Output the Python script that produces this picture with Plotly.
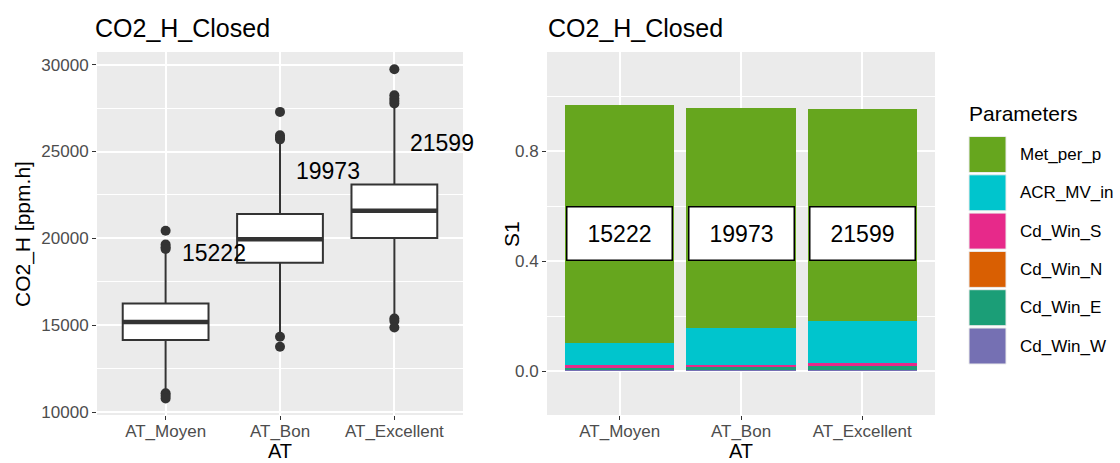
import plotly.graph_objects as go

# ---------------- data ----------------
categories = ["AT_Moyen", "AT_Bon", "AT_Excellent"]

# box statistics (left panel)
q1 = [14155, 18600, 20020]
medians = [15190, 19960, 21590]
q3 = [16260, 21400, 23100]
lower_whisker = [11200, 14450, 15550]
upper_whisker = [19300, 25500, 27600]
outlier_cat = ["AT_Moyen"] * 7 + ["AT_Bon"] * 6 + ["AT_Excellent"] * 8
outlier_val = [20440, 19650, 19500, 19400, 11100, 10950, 10800,
               27280, 25940, 25800, 25700, 14350, 13770,
               29730, 28240, 28050, 27900, 27760, 15400, 15250, 14880]
label_values = ["15222", "19973", "21599"]
label_y = [19140, 23870, 25500]

# sensitivity indices (right panel), stacked bottom-up
param_names = ["Cd_Win_N", "Cd_Win_W", "Cd_Win_E", "Cd_Win_S", "ACR_MV_in", "Met_per_p"]
param_values = {
    "Cd_Win_N": [0.002, 0.002, 0.002],
    "Cd_Win_W": [0.0005, 0.0005, 0.0005],
    "Cd_Win_E": [0.009, 0.011, 0.015],
    "Cd_Win_S": [0.011, 0.008, 0.013],
    "ACR_MV_in": [0.079, 0.136, 0.150],
    "Met_per_p": [0.866, 0.798, 0.771],
}
legend_order = ["Met_per_p", "ACR_MV_in", "Cd_Win_S", "Cd_Win_N", "Cd_Win_E", "Cd_Win_W"]
colors = {
    "Met_per_p": "#66A61E",
    "ACR_MV_in": "#00C5CD",
    "Cd_Win_S": "#E7298A",
    "Cd_Win_N": "#D95F02",
    "Cd_Win_E": "#1B9E77",
    "Cd_Win_W": "#7570B3",
}
bar_label_y = [0.5, 0.5, 0.5]

# ---------------- figure ----------------
W, H = 1120, 463
FONT = "Liberation Sans, Arial, sans-serif"
TICKC = "#4D4D4D"
fig = go.Figure()

def px_x(p):
    return p / W

def px_y(p):
    return 1 - p / H

fig.add_trace(go.Box(
    x=categories, q1=q1, median=medians, q3=q3,
    lowerfence=lower_whisker, upperfence=upper_whisker,
    boxpoints=False, fillcolor="white", width=0.75, whiskerwidth=0,
    line=dict(color="#333333", width=2), xaxis="x", yaxis="y",
    showlegend=False, hoverinfo="skip"))

# thick median line
fig.add_trace(go.Scatter(
    x=categories, y=medians, mode="markers", xaxis="x", yaxis="y",
    marker=dict(symbol="line-ew", size=61, line=dict(color="#333333", width=4.5)),
    showlegend=False, hoverinfo="skip"))

fig.add_trace(go.Scatter(
    x=outlier_cat, y=outlier_val, mode="markers", xaxis="x", yaxis="y",
    marker=dict(color="#333333", size=10), showlegend=False, hoverinfo="skip"))

for name in param_names:
    fig.add_trace(go.Bar(
        x=categories, y=param_values[name], name=name, xaxis="x2", yaxis="y2",
        marker=dict(color=colors[name], line=dict(width=0)), width=0.9,
        showlegend=False, hoverinfo="skip"))

C = dict(xanchor="center", yanchor="middle", showarrow=False)
annotations = []
for i, (t, y) in enumerate(zip(label_values, label_y)):
    annotations.append(dict(x=i + 0.42, y=y, xref="x", yref="y", text=t,
                            font=dict(size=23, color="black", family=FONT), **C))
for i, (t, y) in enumerate(zip(label_values, bar_label_y)):
    annotations.append(dict(x=i, y=y, xref="x2", yref="y2", text=t,
                            font=dict(size=23, color="black", family=FONT),
                            bgcolor="white", bordercolor="black", borderwidth=1.5,
                            borderpad=1, width=102, height=50, **C))

# titles
for xp in (93, 546):
    annotations.append(dict(x=px_x(xp), y=px_y(28), xref="paper", yref="paper",
                            text="CO2_H_Closed", showarrow=False, xanchor="left",
                            yanchor="middle", font=dict(size=25, color="black", family=FONT)))
# axis titles
for xp in (280, 741):
    annotations.append(dict(x=px_x(xp), y=0, xref="paper", yref="paper", text="AT",
                            xanchor="center", yanchor="bottom", showarrow=False,
                            borderpad=0, font=dict(size=20, color="black", family=FONT)))
annotations.append(dict(x=px_x(23), y=px_y(234), xref="paper", yref="paper",
                        text="CO2_H [ppm.h]", textangle=-90,
                        font=dict(size=21, color="black", family=FONT), **C))
annotations.append(dict(x=px_x(511), y=px_y(234), xref="paper", yref="paper",
                        text="S1", textangle=-90,
                        font=dict(size=21, color="black", family=FONT), **C))

# manual legend
shapes = []
annotations.append(dict(x=px_x(967), y=px_y(113), xref="paper", yref="paper",
                        text="Parameters", showarrow=False, xanchor="left", yanchor="middle",
                        font=dict(size=21, color="black", family=FONT)))
for i, name in enumerate(legend_order):
    top = 136.5 + 38.3 * i
    shapes.append(dict(type="rect", xref="paper", yref="paper",
                       x0=px_x(969), x1=px_x(1006), y0=px_y(top + 36), y1=px_y(top),
                       fillcolor=colors[name], line=dict(color="#EBEBEB", width=1)))
    annotations.append(dict(x=px_x(1018), y=px_y(top + 18), xref="paper", yref="paper",
                            text=name, showarrow=False, xanchor="left", yanchor="middle",
                            font=dict(size=17, color="black", family=FONT)))

axis_common = dict(showline=False, ticks="outside", ticklen=4, tickwidth=1,
                   tickcolor="#333333", tickfont=dict(size=17, color=TICKC, family=FONT),
                   gridcolor="white", gridwidth=1.6, zeroline=False, automargin=False)

ydom = [px_y(415), px_y(52)]
fig.update_layout(
    width=W, height=H, margin=dict(l=0, r=0, t=0, b=0),
    paper_bgcolor="white", plot_bgcolor="#EBEBEB",
    barmode="stack", showlegend=False,
    font=dict(family=FONT),
    xaxis=dict(domain=[px_x(97), px_x(463)], type="category", range=[-0.6, 2.6],
               anchor="y", showgrid=True, **axis_common),
    yaxis=dict(domain=ydom, range=[9845, 30724], anchor="x",
               tickvals=[10000, 15000, 20000, 25000, 30000], tickformat="d",
               showgrid=True,
               minor=dict(tickvals=[12500, 17500, 22500, 27500], showgrid=True,
                          gridcolor="white", gridwidth=0.8, ticks=""),
               **axis_common),
    xaxis2=dict(domain=[px_x(547), px_x(935)], type="category", range=[-0.6, 2.6],
                anchor="y2", showgrid=True, **axis_common),
    yaxis2=dict(domain=ydom, range=[-0.16, 1.16], anchor="x2", tickvals=[0, 0.4, 0.8],
                tickformat=".1f", showgrid=True,
                minor=dict(tickvals=[0.2, 0.6, 1.0], showgrid=True,
                           gridcolor="white", gridwidth=0.8, ticks=""),
                **axis_common),
    annotations=annotations, shapes=shapes,
)
try:
    fig.update_xaxes(ticklabelstandoff=-3)
except Exception:
    fig.update_xaxes(tickfont=dict(size=16))

fig.write_html("out.html", config={"displayModeBar": False},
               post_script="document.body.style.margin='0px';document.body.style.overflow='hidden';")
